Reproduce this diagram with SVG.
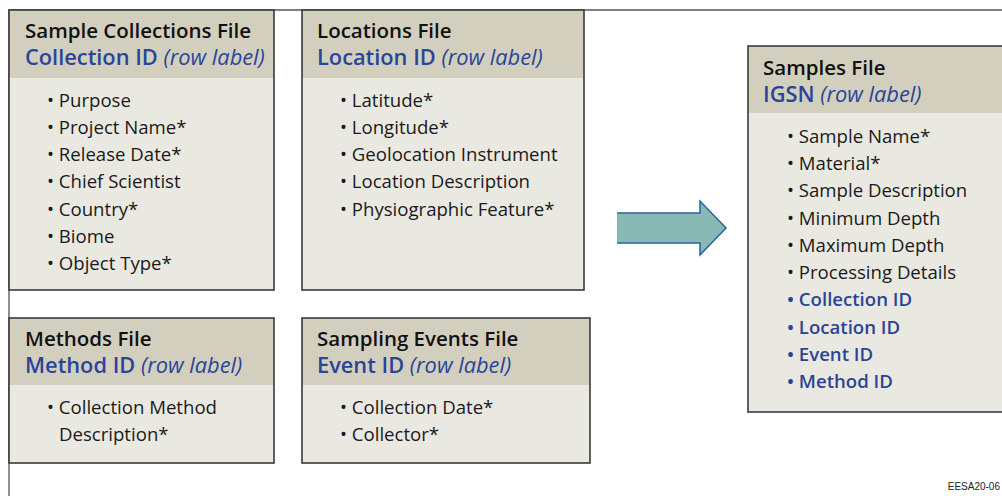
<svg xmlns="http://www.w3.org/2000/svg" width="1002" height="496" viewBox="0 0 1002 496">
<style>
.hd{fill:#d3cfbf}
.bd{fill:#eae9e1}
.bx{fill:none;stroke:#3a3a3a;stroke-width:1.6}
text{font-family:"Open Sans","Noto Sans",sans-serif}
.t{font-size:20.5px;font-weight:600;fill:#111}
.id{font-size:21.8px;font-weight:600;fill:#2a4597}
.rl{font-weight:400;font-style:italic}
.it{font-size:18.6px;fill:#1a1a1a}
.bl{font-size:18.6px;font-weight:600;fill:#2a4597}
</style>
<rect width="1002" height="496" fill="#fff"/>
<path d="M9,496 V10 H1002" fill="none" stroke="#555" stroke-width="1.3"/>
<g id="collections">
<rect class="bd" x="9" y="10" width="265" height="280"/>
<rect class="hd" x="9" y="10" width="265" height="68"/>
<rect class="bx" x="9" y="10" width="265" height="280"/>
<text class="t" x="25" y="38">Sample Collections File</text>
<text class="id" x="25" y="65">Collection ID <tspan class="rl">(row label)</tspan></text>
<text class="it" x="47" y="107">• Purpose</text>
<text class="it" x="47" y="134">• Project Name*</text>
<text class="it" x="47" y="161">• Release Date*</text>
<text class="it" x="47" y="188">• Chief Scientist</text>
<text class="it" x="47" y="216">• Country*</text>
<text class="it" x="47" y="243">• Biome</text>
<text class="it" x="47" y="270">• Object Type*</text>
</g>
<g id="locations">
<rect class="bd" x="302" y="10" width="282" height="280"/>
<rect class="hd" x="302" y="10" width="282" height="68"/>
<rect class="bx" x="302" y="10" width="282" height="280"/>
<text class="t" x="317" y="38">Locations File</text>
<text class="id" x="317" y="65">Location ID <tspan class="rl">(row label)</tspan></text>
<text class="it" x="340" y="107">• Latitude*</text>
<text class="it" x="340" y="134">• Longitude*</text>
<text class="it" x="340" y="161">• Geolocation Instrument</text>
<text class="it" x="340" y="188">• Location Description</text>
<text class="it" x="340" y="216">• Physiographic Feature*</text>
</g>
<g id="methods">
<rect class="bd" x="9" y="318" width="265" height="145"/>
<rect class="hd" x="9" y="318" width="265" height="67"/>
<rect class="bx" x="9" y="318" width="265" height="145"/>
<text class="t" x="25" y="346">Methods File</text>
<text class="id" x="25" y="373">Method ID <tspan class="rl">(row label)</tspan></text>
<text class="it" x="47" y="414">• Collection Method</text>
<text class="it" x="59" y="441">Description*</text>
</g>
<g id="events">
<rect class="bd" x="302" y="318" width="288" height="145"/>
<rect class="hd" x="302" y="318" width="288" height="67"/>
<rect class="bx" x="302" y="318" width="288" height="145"/>
<text class="t" x="317" y="346">Sampling Events File</text>
<text class="id" x="317" y="373">Event ID <tspan class="rl">(row label)</tspan></text>
<text class="it" x="340" y="414">• Collection Date*</text>
<text class="it" x="340" y="441">• Collector*</text>
</g>
<g id="samples">
<rect class="bd" x="748" y="46" width="260" height="366"/>
<rect class="hd" x="748" y="46" width="260" height="67"/>
<rect class="bx" x="748" y="46" width="260" height="366"/>
<text class="t" x="763" y="75">Samples File</text>
<text class="id" x="763" y="102">IGSN <tspan class="rl">(row label)</tspan></text>
<text class="it" x="787" y="143">• Sample Name*</text>
<text class="it" x="787" y="170">• Material*</text>
<text class="it" x="787" y="197">• Sample Description</text>
<text class="it" x="787" y="225">• Minimum Depth</text>
<text class="it" x="787" y="252">• Maximum Depth</text>
<text class="it" x="787" y="279">• Processing Details</text>
<text class="bl" x="787" y="306">• Collection ID</text>
<text class="bl" x="787" y="334">• Location ID</text>
<text class="bl" x="787" y="361">• Event ID</text>
<text class="bl" x="787" y="388">• Method ID</text>
</g>
<g id="connectors">
<path d="M617,213 H700 V201 L726,228 L700,255 V243 H617" fill="#89b9b5" stroke="#2762a0" stroke-width="1.5"/>
</g>
<text x="1000" y="490" text-anchor="end" style="font-family:'Liberation Sans',Arial,sans-serif;font-size:10px;fill:#222">EESA20-06</text>
</svg>
